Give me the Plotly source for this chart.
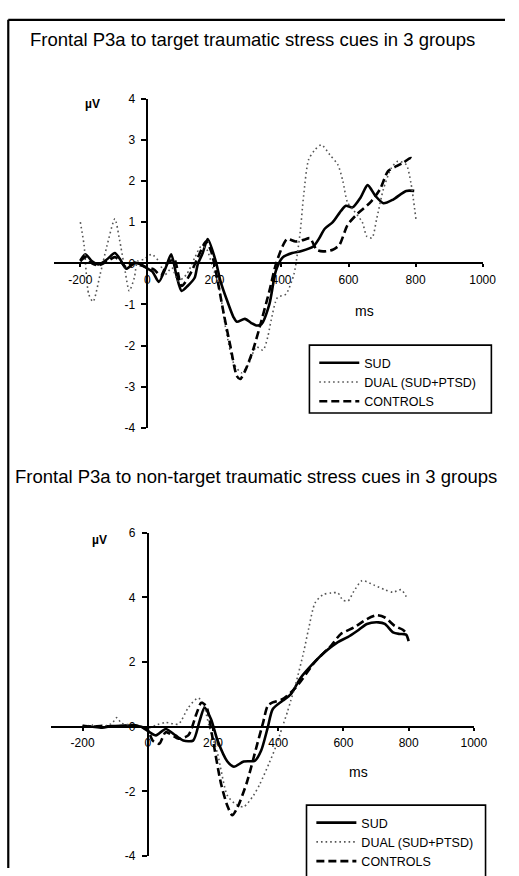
import plotly.graph_objects as go

# ---------------- data: upper panel (target cues) ----------------
t_sud_ms = [-200, -185, -165, -146, -120, -97, -80, -63, -39, -20, -5, 15, 34, 55, 71, 87, 102, 120,
            141, 150, 165, 180, 204, 218, 238, 257, 267, 291, 310, 325, 340, 364, 383, 403, 432, 460,
            495, 512, 529, 553, 578, 592, 612, 636, 657, 680, 704, 733, 772, 796]
t_sud_uv = [0.07, 0.22, 0.05, -0.03, 0.1, 0.25, 0.08, -0.13, 0.0, -0.02, -0.1, -0.2, -0.45, -0.1, 0.22,
            -0.3, -0.67, -0.55, -0.35, -0.03, 0.25, 0.59, 0.05, -0.43, -0.91, -1.31, -1.42, -1.35, -1.45,
            -1.51, -1.48, -0.99, -0.19, 0.14, 0.25, 0.3, 0.41, 0.6, 0.84, 1.0, 1.28, 1.4, 1.36, 1.6, 1.9,
            1.64, 1.46, 1.55, 1.76, 1.76]

t_dual_ms = [-200, -189, -175, -162, -141, -121, -97, -83, -68, -54, -39, -29, -10, 13, 34, 53, 73, 92,
             117, 141, 160, 175, 194, 214, 233, 257, 281, 301, 325, 345, 359, 369, 388, 413, 437, 447,
             456, 466, 481, 500, 519, 544, 568, 583, 597, 616, 641, 655, 670, 684, 704, 728, 747, 772,
             786, 801]
t_dual_uv = [1.0, 0.45, -0.75, -0.93, -0.27, 0.41, 1.08, 0.57, -0.11, -0.67, -0.35, 0.05, 0.1, 0.22,
             0.05, -0.27, -0.11, -0.43, -0.27, 0.13, 0.41, 0.37, -0.07, -0.59, -1.55, -2.42, -2.66,
             -2.46, -2.03, -2.11, -1.79, -1.39, -0.83, -0.75, -0.27, 0.21, 0.77, 1.64, 2.52, 2.76, 2.88,
             2.64, 2.4, 2.0, 1.48, 1.28, 1.0, 0.65, 0.62, 1.08, 1.8, 2.32, 2.48, 2.4, 1.96, 1.08]

t_ctrl_ms = [-200, -185, -165, -146, -120, -97, -80, -63, -39, -20, 0, 20, 40, 60, 80, 102, 125, 150,
             175, 190, 204, 228, 248, 267, 277, 291, 315, 335, 364, 383, 403, 417, 442, 466, 485, 505,
             524, 553, 573, 597, 626, 665, 694, 718, 743, 762, 786, 796]
t_ctrl_uv = [0.05, 0.15, 0.0, -0.05, 0.05, 0.15, 0.05, -0.1, 0.02, -0.05, -0.1, -0.15, -0.3, 0.0, 0.1,
             -0.55, -0.3, 0.13, 0.53, 0.3, -0.19, -1.23, -2.03, -2.74, -2.81, -2.62, -2.11, -1.55, -0.67,
             -0.03, 0.41, 0.59, 0.53, 0.57, 0.61, 0.33, 0.29, 0.33, 0.45, 0.93, 1.2, 1.48, 1.8, 2.24,
             2.36, 2.44, 2.56, 2.48]

# ---------------- data: lower panel (non-target cues) ----------------
n_sud_ms = [-200, -170, -140, -110, -80, -45, -20, 5, 25, 55, 85, 109, 139, 159, 174, 194, 214, 244,
            264, 294, 329, 348, 368, 383, 413, 438, 468, 503, 543, 583, 613, 643, 672, 707, 727, 752,
            772, 792, 800]
n_sud_uv = [0.03, 0.0, -0.03, 0.02, 0.03, 0.03, 0.0, -0.17, -0.27, -0.07, -0.27, -0.43, -0.43, 0.18,
            0.59, 0.23, -0.43, -1.08, -1.24, -1.08, -1.05, -0.73, -0.02, 0.54, 0.8, 1.0, 1.5, 1.91,
            2.31, 2.62, 2.77, 2.97, 3.18, 3.23, 3.18, 2.92, 2.87, 2.85, 2.65]

n_dual_ms = [-200, -170, -140, -110, -95, -80, -45, -20, 0, 25, 55, 94, 124, 154, 169, 189, 214, 244,
             270, 294, 324, 344, 373, 393, 413, 428, 438, 453, 478, 493, 513, 538, 563, 583, 598, 614,
             632, 657, 692, 727, 752, 777, 797]
n_dual_uv = [0.0, 0.05, 0.0, 0.1, 0.28, 0.1, 0.05, 0.0, -0.05, 0.05, 0.13, 0.08, 0.59, 0.89, 0.74,
             -0.02, -0.83, -2.13, -2.4, -2.48, -2.13, -1.77, -1.11, -0.61, 0.0, 0.45, 0.79, 1.3, 2.31,
             3.02, 3.83, 4.09, 4.14, 4.14, 3.92, 3.89, 4.19, 4.52, 4.39, 4.24, 4.16, 4.24, 3.94]

n_ctrl_ms = [-200, -170, -140, -110, -80, -45, -20, 0, 15, 35, 55, 94, 124, 149, 164, 179, 199, 224,
             244, 259, 275, 304, 334, 353, 368, 383, 413, 453, 513, 563, 592, 632, 672, 702, 727, 757,
             782, 797]
n_ctrl_uv = [0.02, 0.0, 0.03, 0.0, 0.02, 0.05, 0.0, -0.1, -0.43, -0.53, -0.17, -0.37, -0.27, 0.39, 0.74,
             0.64, -0.37, -1.74, -2.45, -2.74, -2.5, -1.72, -0.6, 0.1, 0.65, 0.75, 0.85, 1.2, 2.01, 2.52,
             2.87, 3.07, 3.33, 3.45, 3.38, 3.12, 3.0, 2.85]

# ---------------- labels ----------------
group_names = ["SUD", "DUAL (SUD+PTSD)", "CONTROLS"]
x_ticks = [-200, 0, 200, 400, 600, 800, 1000]
x_tick_text = ["-200", "0", "200", "400", "600", "800", "1000"]
t_y_ticks = [4, 3, 2, 1, 0, -1, -2, -3, -4]
t_y_tick_text = ["4", "3", "2", "1", "0", "-1", "-2", "-3", "-4"]
n_y_ticks = [6, 4, 2, 0, -2, -4]
n_y_tick_text = ["6", "4", "2", "0", "-2", "-4"]
title_top = "Frontal P3a to target traumatic stress cues in 3 groups"
title_bottom = "Frontal P3a to non-target traumatic stress cues in 3 groups"

# ---------------- page geometry (pixels) ----------------
W, H = 519, 876
FONT = "Liberation Sans, Arial, sans-serif"


def px(x):
    return x / W


def py(y):
    return 1 - y / H


STYLES = [
    dict(color="black", width=2.6, dash="solid"),
    dict(color="#555555", width=1.6, dash="1.6px,3px"),
    dict(color="black", width=2.6, dash="8px,4px"),
]

panels = [
    dict(series=[(t_sud_ms, t_sud_uv), (t_dual_ms, t_dual_uv), (t_ctrl_ms, t_ctrl_uv)],
         xr=[-280, 1000], xdom=[px(55), px(496)],
         yr=[-4, 4], ydom=[py(428.3), py(93.3)],
         yt=t_y_ticks, ytt=t_y_tick_text, legend="legend"),
    dict(series=[(n_sud_ms, n_sud_uv), (n_dual_ms, n_dual_uv), (n_ctrl_ms, n_ctrl_uv)],
         xr=[-296, 1000], xdom=[px(52.7), px(487)],
         yr=[-4, 6], ydom=[py(863.7), py(535)],
         yt=n_y_ticks, ytt=n_y_tick_text, legend="legend2"),
]

fig = go.Figure()
layout = dict(width=W, height=H, margin=dict(l=0, r=0, t=0, b=0),
              paper_bgcolor="white", plot_bgcolor="rgba(0,0,0,0)",
              font=dict(family=FONT, color="black", size=12))

for i, p in enumerate(panels):
    sfx = "" if i == 0 else str(i + 1)
    for name, (xs, ys), st in zip(group_names, p["series"], STYLES):
        fig.add_trace(go.Scatter(
            x=xs, y=ys, mode="lines", name=name,
            line=dict(color=st["color"], width=st["width"], dash=st["dash"],
                      shape="spline", smoothing=0.7),
            xaxis="x" + sfx, yaxis="y" + sfx, legend=p["legend"], showlegend=True))

    # y axis crosses the x axis at 0 ms, x axis crosses at 0 uV
    y0_pos = p["ydom"][0] + (0 - p["yr"][0]) / (p["yr"][1] - p["yr"][0]) * (p["ydom"][1] - p["ydom"][0])
    x0_pos = p["xdom"][0] + (0 - p["xr"][0]) / (p["xr"][1] - p["xr"][0]) * (p["xdom"][1] - p["xdom"][0])

    layout["xaxis" + sfx] = dict(
        domain=p["xdom"], range=p["xr"], anchor="free", position=y0_pos,
        showline=True, linecolor="black", linewidth=1.8, showgrid=False, zeroline=False,
        tickvals=x_ticks, ticktext=x_tick_text, ticks="outside", ticklen=3, tickwidth=1.5,
        tickcolor="black", tickfont=dict(size=12, family=FONT), ticklabelstandoff=2)
    layout["yaxis" + sfx] = dict(
        domain=p["ydom"], range=p["yr"], anchor="free", position=x0_pos,
        showline=True, linecolor="black", linewidth=1.8, showgrid=False, zeroline=False,
        tickvals=p["yt"], ticktext=p["ytt"], ticks="outside", ticklen=5, tickwidth=1.5,
        tickcolor="black", tickfont=dict(size=12, family=FONT), ticklabelstandoff=4)

# legend entries sit inside separately drawn boxes
legend_style = dict(bgcolor="rgba(0,0,0,0)", borderwidth=0,
                    font=dict(size=12.5, family=FONT), itemwidth=40,
                    xanchor="left", yanchor="top", tracegroupgap=0)
layout["legend"] = dict(x=px(323), y=py(347), **legend_style)
layout["legend2"] = dict(x=px(320), y=py(815), **legend_style)

fig.update_layout(**layout)

# legend boxes
fig.add_shape(type="rect", xref="paper", yref="paper", x0=px(318), x1=px(505), y0=py(413), y1=py(344),
              line=dict(color="black", width=1.6), fillcolor="white", layer="below")
fig.add_shape(type="rect", xref="paper", yref="paper", x0=px(315), x1=px(499), y0=py(885), y1=py(812),
              line=dict(color="black", width=1.6), fillcolor="white", layer="below")

annotations = [
    dict(text=title_top, x=px(29), y=py(33), xanchor="left", yanchor="middle",
         font=dict(size=18.5, family=FONT)),
    dict(text=title_bottom, x=px(13), y=py(477.7), xanchor="left", yanchor="middle",
         font=dict(size=18.5, family=FONT)),
    dict(text="<b>µV</b>", x=px(95), y=py(99), xanchor="center", yanchor="middle",
         font=dict(size=12, family=FONT)),
    dict(text="<b>µV</b>", x=px(102), y=py(542), xanchor="center", yanchor="middle",
         font=dict(size=12, family=FONT)),
    dict(text="ms", x=px(375), y=py(309), xanchor="center", yanchor="middle",
         font=dict(size=14, family=FONT)),
    dict(text="ms", x=px(368), y=py(778.7), xanchor="center", yanchor="middle",
         font=dict(size=14, family=FONT)),
]
for a in annotations:
    fig.add_annotation(xref="paper", yref="paper", showarrow=False, **a)

# outer frame: left and top edges
fig.add_shape(type="line", xref="paper", yref="paper", x0=px(8.5), x1=px(8.5), y0=0, y1=py(13),
              line=dict(color="black", width=2.2))
fig.add_shape(type="line", xref="paper", yref="paper", x0=px(8.5), x1=1, y0=py(13), y1=py(13),
              line=dict(color="black", width=2.2))

fig.write_html("out.html")
